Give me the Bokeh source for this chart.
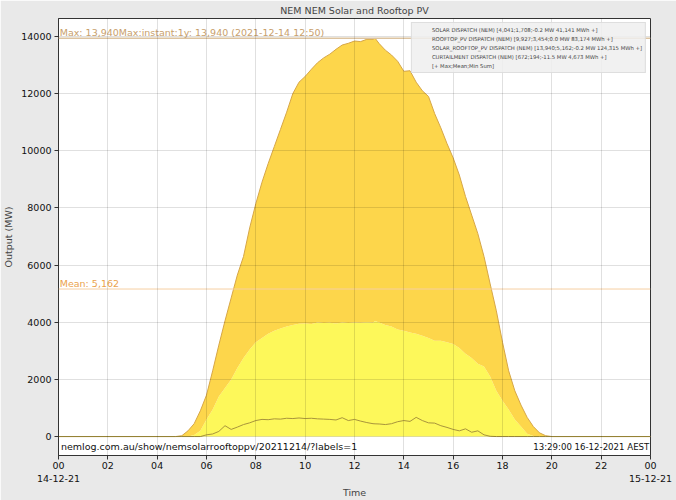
from bokeh.plotting import figure
from bokeh.models import (Range1d, FixedTicker, Span, Label, Legend, LegendItem,
                          ColumnDataSource)
from bokeh.transform import stack
from bokeh.embed import file_html
from bokeh.resources import INLINE

# ---------------- data ----------------
times = ["00:00", "04:45", "05:00", "05:15", "05:30", "05:45", "06:00", "06:15", "06:30", "06:45",
         "07:00", "07:15", "07:30", "07:45", "08:00", "08:15", "08:30", "08:45", "09:00", "09:15",
         "09:30", "09:45", "10:00", "10:15", "10:30", "10:45", "11:00", "11:15", "11:30", "11:45",
         "12:00", "12:15", "12:30", "12:45", "12:50", "13:00", "13:15", "13:30", "13:45", "14:00",
         "14:15", "14:30", "14:45", "15:00", "15:15", "15:30", "15:45", "16:00", "16:15", "16:30",
         "16:45", "17:00", "17:15", "17:30", "17:45", "18:00", "18:15", "18:30", "18:45", "19:00",
         "19:15", "19:30", "19:45", "20:00", "24:00"]

solar = [0, 0, 0, 0, 50, 200, 600, 950, 1400, 1700,
         2000, 2400, 2750, 3050, 3300, 3450, 3600, 3700, 3780, 3850,
         3900, 3950, 3960, 3940, 3990, 3970, 3980, 3960, 3990, 3970,
         3990, 3980, 4000, 3980, 4041, 3990, 3900, 3850, 3750, 3700,
         3640, 3600, 3530, 3450, 3350, 3350, 3300, 3240, 3100, 2900,
         2750, 2550, 2450, 2100, 1600, 1250, 950, 600, 350, 100,
         20, 0, 0, 0, 0]

rooftop = [0, 0, 30, 200, 400, 700, 850, 1350, 1800, 2350,
           2850, 3250, 3550, 4250, 4850, 5450, 5950, 6450, 6970, 7500,
           8100, 8450, 8640, 8910, 9090, 9280, 9400, 9590, 9710, 9790,
           9850, 9840, 9900, 9920, 9899, 9760, 9620, 9500, 9380, 9080,
           9160, 8800, 8570, 8450, 7950, 7450, 6950, 6510, 6050, 5500,
           5000, 4550, 3850, 3240, 2800, 2050, 1350, 1000, 750, 570,
           330, 130, 30, 0, 0]

curtailment = [0, 0, 0, 0, 0, 0, 60, 90, 180, 380,
               250, 330, 420, 480, 560, 600, 590, 620, 610, 640,
               630, 650, 630, 640, 620, 610, 600, 580, 660, 560,
               600, 540, 490, 450, 445, 440, 420, 450, 520, 560,
               530, 672, 560, 480, 470, 380, 320, 250, 200, 270,
               150, 200, 60, 10, 0, 0, 0, 0, 0, 0,
               0, 0, 0, 0, 0]

x_ticks = [0, 2, 4, 6, 8, 10, 12, 14, 16, 18, 20, 22, 24]
x_tick_labels = ["00\n14-12-21", "02", "04", "06", "08", "10", "12", "14", "16", "18",
                 "20", "22", "00\n15-12-21"]
y_ticks = [0, 2000, 4000, 6000, 8000, 10000, 12000, 14000]

max_value = 13940
mean_value = 5162

legend_labels = [
    "SOLAR DISPATCH (NEM) [4,041;1,708;-0.2 MW 41,141 MWh +]",
    "ROOFTOP_PV DISPATCH (NEM) [9,927;3,454;0.0 MW 83,174 MWh +]",
    "SOLAR_ROOFTOP_PV DISPATCH (NEM) [13,940;5,162;-0.2 MW 124,315 MWh +]",
    "CURTAILMENT DISPATCH (NEM) [672;194;-11.5 MW 4,673 MWh +]",
    "[+ Max;Mean;Min Sum]",
]


def to_hours(t):
    h, m = t.split(":")
    return int(h) + int(m) / 60.0


hours = [to_hours(t) for t in times]
src = ColumnDataSource(dict(hour=hours, solar=solar, rooftop=rooftop, curt=curtailment))

FONT = "DejaVu Sans"
Y0, Y1 = -663, 14628

p = figure(width=676, height=500, output_backend="svg", toolbar_location=None,
           x_range=Range1d(0, 24), y_range=Range1d(Y0, Y1),
           min_border_left=57, min_border_right=26, min_border_top=17, min_border_bottom=45)

p.title.text = "NEM NEM Solar and Rooftop PV"
p.title.align = "center"
p.title.text_font = FONT
p.title.text_font_size = "9.5px"
p.title.text_font_style = "normal"
p.title.standoff = 5

p.background_fill_color = "white"
p.border_fill_color = "#e9e9e9"
p.outline_line_color = "#333333"
p.outline_line_width = 1

# stacked areas
SOLAR_C = "#fdf85a"
ROOF_C = "#fdd64b"
p.varea_stack(["solar", "rooftop"], x="hour", source=src, color=[SOLAR_C, ROOF_C])

# outline of the total and curtailment
p.line(x="hour", y=stack("solar", "rooftop"), source=src, line_color="#d6a648", line_width=1)
p.line(x="hour", y="curt", source=src, line_color="#a8943c", line_width=1)

# max and mean lines
p.add_layout(Span(location=max_value, dimension="width", line_color="#dcc3a0", line_width=1.5))
p.add_layout(Span(location=mean_value, dimension="width", line_color="#f6cfa2", line_width=1))
p.add_layout(Label(x=0.05, y=max_value, text="Max: 13,940Max:instant:1y: 13,940 (2021-12-14 12:50)",
                   text_color="#c8a06c", text_font=FONT, text_font_size="9.5px",
                   text_baseline="bottom"))
p.add_layout(Label(x=0.05, y=mean_value, text="Mean: 5,162",
                   text_color="#eba24a", text_font=FONT, text_font_size="9.5px",
                   text_baseline="bottom"))

# footer texts
p.add_layout(Label(x=0.1, y=-350, text="nemlog.com.au/show/nemsolarrooftoppv/20211214/?labels=1",
                   text_color="#111111", text_font=FONT, text_font_size="9.5px",
                   text_baseline="middle"))
p.add_layout(Label(x=23.95, y=-350, text="13:29:00 16-12-2021 AEST",
                   text_color="#111111", text_font=FONT, text_font_size="8.6px",
                   text_baseline="middle", text_align="right"))

# legend (dummy renderers for icons)
q1 = p.quad(left=[], right=[], top=[], bottom=[], fill_color=SOLAR_C, line_color="#8a8a10", line_width=1.5)
q2 = p.quad(left=[], right=[], top=[], bottom=[], fill_color=ROOF_C, line_color="#8a8a10", line_width=1.5)
l3 = p.line(x=[], y=[], line_color="#d8b48a", line_width=1)
l4 = p.line(x=[], y=[], line_color="#9a9a9a", line_width=1)
l5 = p.line(x=[], y=[], line_alpha=0)
legend = Legend(items=[LegendItem(label=legend_labels[0], renderers=[q1]),
                       LegendItem(label=legend_labels[1], renderers=[q2]),
                       LegendItem(label=legend_labels[2], renderers=[l3]),
                       LegendItem(label=legend_labels[3], renderers=[l4]),
                       LegendItem(label=legend_labels[4], renderers=[l5])],
                location="top_right")
legend.label_text_font = FONT
legend.label_text_font_size = "5.3px"
legend.label_text_color = "#444444"
legend.label_height = 7
legend.glyph_height = 5
legend.glyph_width = 13
legend.label_standoff = 4
legend.spacing = 2
legend.padding = 3
legend.margin = 4
legend.background_fill_color = "#eeeeee"
legend.background_fill_alpha = 0.85
legend.border_line_color = "#cccccc"
p.add_layout(legend)

# axes
p.xaxis.ticker = FixedTicker(ticks=x_ticks)
p.xaxis.major_label_overrides = {t: s for t, s in zip(x_ticks, x_tick_labels)}
p.yaxis.ticker = FixedTicker(ticks=y_ticks)
p.xaxis.axis_label = "Time"
p.yaxis.axis_label = "Output (MW)"
for ax in (p.xaxis, p.yaxis):
    ax.axis_label_text_font = FONT
    ax.axis_label_text_font_size = "9.5px"
    ax.axis_label_text_font_style = "normal"
    ax.major_label_text_font = FONT
    ax.major_label_text_font_size = "9.5px"
    ax.major_label_text_color = "#111111"
    ax.axis_line_color = "#333333"
    ax.major_tick_line_color = "#333333"
    ax.major_tick_out = 4
    ax.major_tick_in = 0
    ax.minor_tick_line_color = None
p.xaxis.major_label_standoff = 0
p.xaxis.axis_label_standoff = 0
p.yaxis.major_label_standoff = 3
p.yaxis.axis_label_standoff = 4
p.yaxis.formatter.use_scientific = False

# grid drawn over the areas, faint, as in the reference
for g in (p.xgrid, p.ygrid):
    g.grid_line_color = "#000000"
    g.grid_line_alpha = 0.12
    g.level = "overlay"

open("out.html", "w").write(file_html(p, INLINE))
